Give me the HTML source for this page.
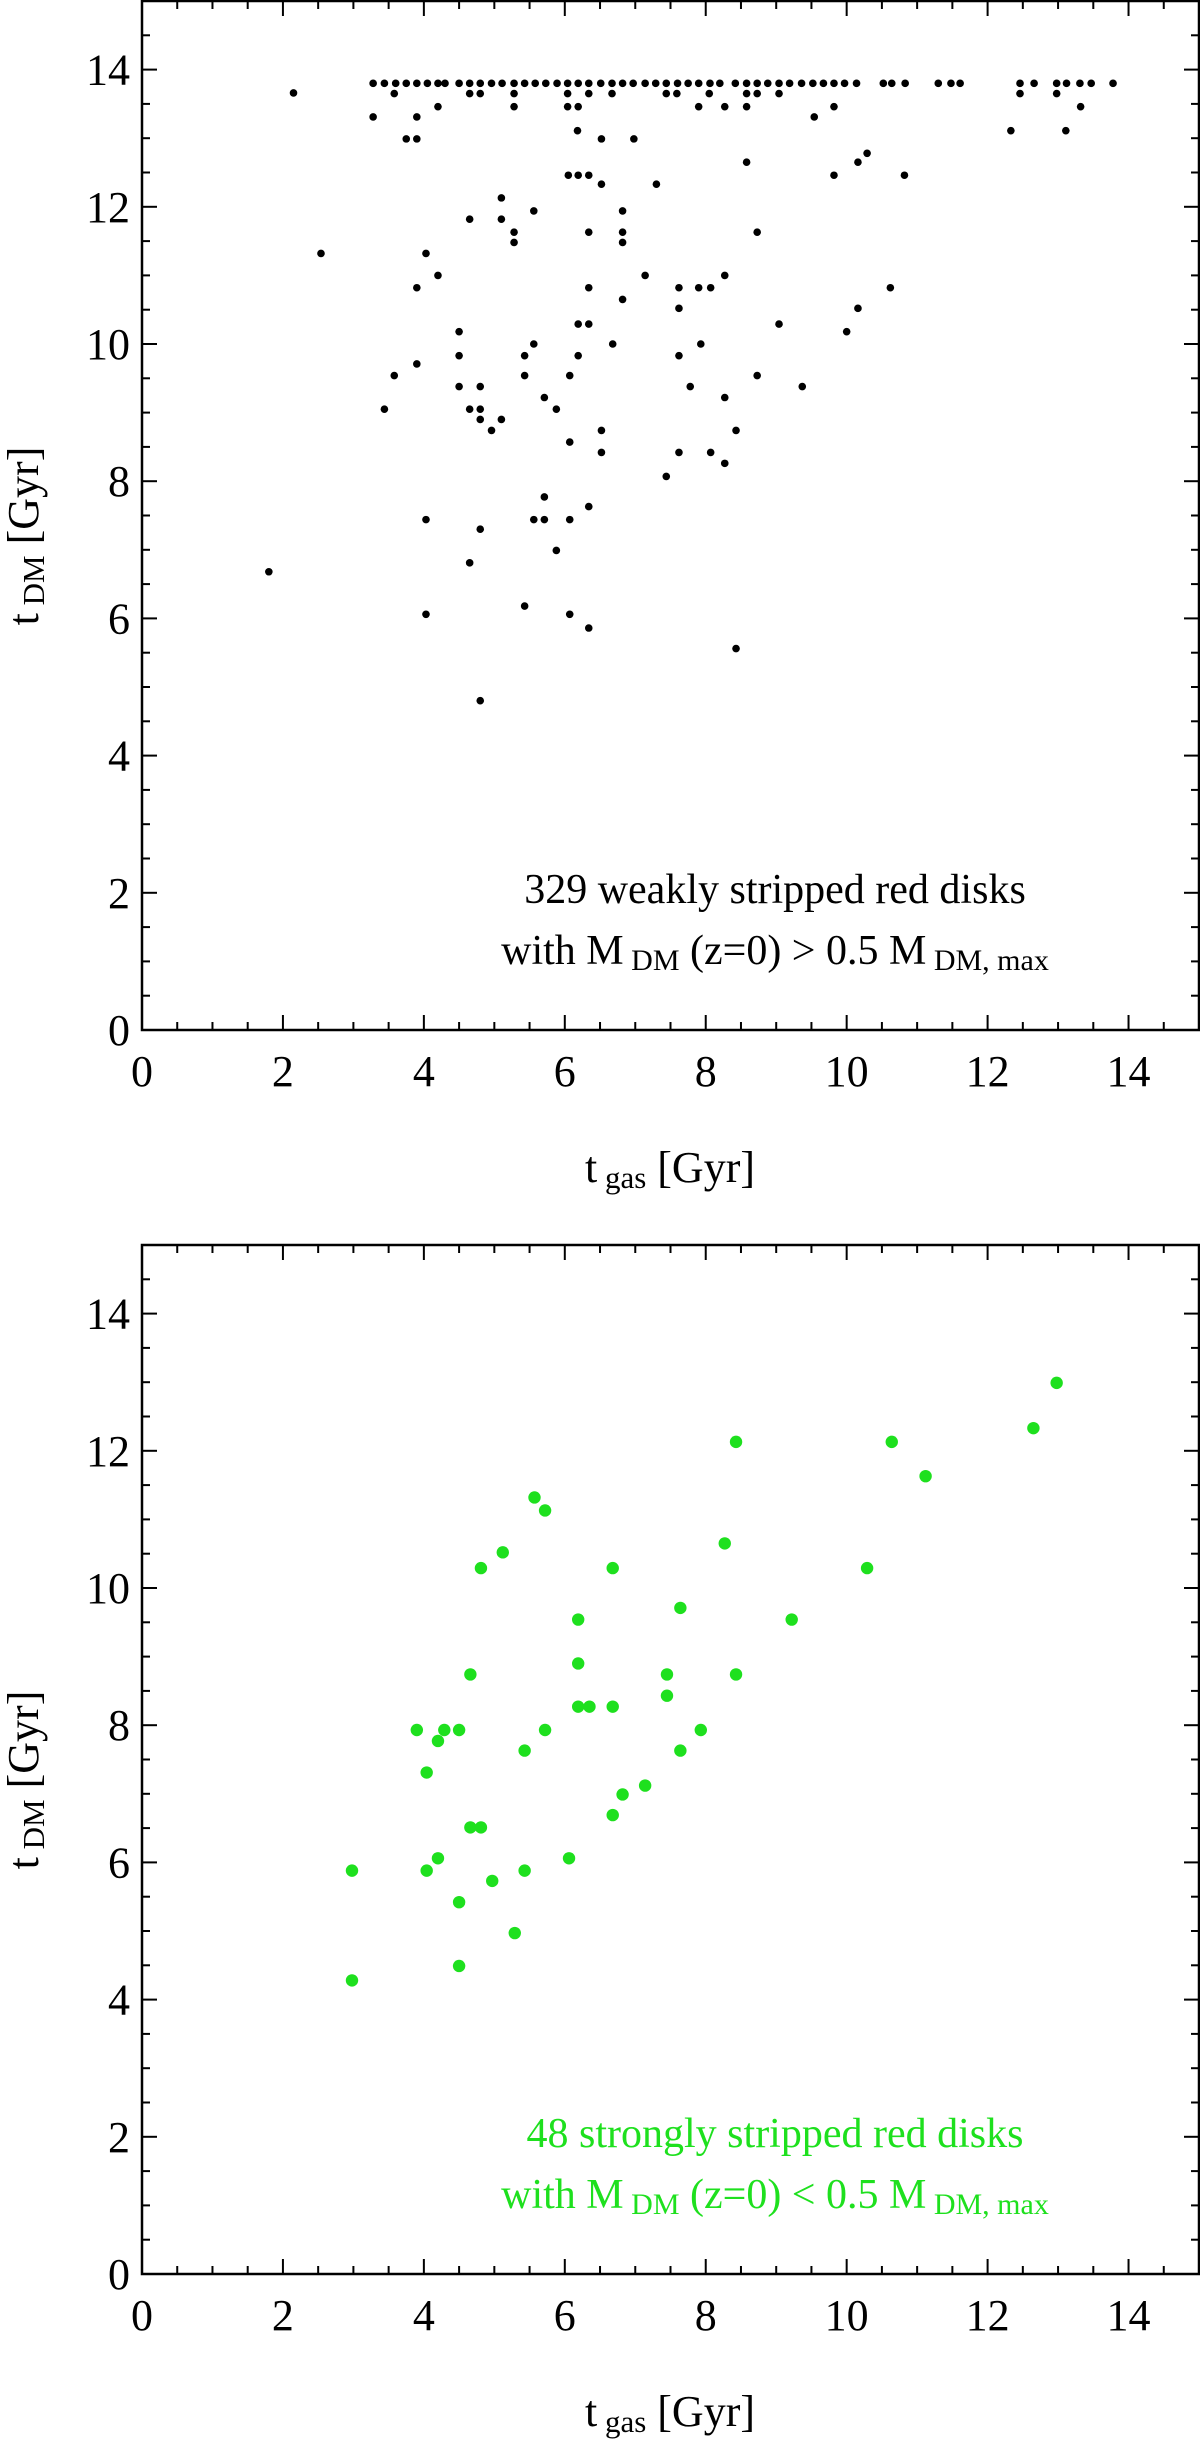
<!DOCTYPE html>
<html><head><meta charset="utf-8"><style>
html,body{margin:0;padding:0;background:#fff;}
svg{display:block;font-family:"Liberation Serif",serif;}
</style></head><body>
<svg id="s" width="1200" height="2460"></svg>
<script>
const topX=[3.28,3.44,3.6,3.75,3.9,4.05,4.2,4.3,4.5,4.65,4.8,4.96,5.11,5.28,5.43,5.58,5.73,5.89,6.04,6.19,6.34,6.51,6.67,6.82,6.97,7.14,7.29,7.44,7.6,7.75,7.9,8.06,8.2,8.42,8.58,8.73,8.88,9.04,9.19,9.36,9.52,9.67,9.82,9.97,10.14,10.52,10.64,10.83,11.3,11.48,11.61,12.46,12.66,12.98,13.12,13.31,13.47,13.78,
2.15,3.58,4.65,4.8,5.28,6.04,6.34,6.67,7.44,7.59,8.05,8.58,8.73,9.04,12.46,12.98,
4.2,5.28,6.04,6.19,7.9,8.27,8.58,9.82,13.32,3.28,3.9,9.54,6.18,12.33,13.11,3.75,3.9,6.52,6.98,8.58,10.16,10.29,6.05,6.19,6.34,9.82,10.82,6.52,7.3,
5.1,5.56,6.82,4.65,5.1,5.28,5.28,6.34,6.82,6.82,8.73,2.54,4.03,4.2,7.14,8.27,3.9,6.34,7.62,7.9,8.07,10.62,7.62,10.16,6.82,4.5,10.0,6.19,6.34,9.04,5.56,6.68,7.93,4.5,5.43,6.19,7.62,3.9,3.58,5.43,6.07,8.73,4.5,4.8,7.78,9.37,5.71,8.27,3.44,4.65,4.8,5.88,4.8,5.1,4.96,6.52,8.43,6.07,6.52,7.62,8.07,8.27,7.44,5.71,4.03,5.56,5.71,6.07,6.34,4.8,5.88,4.65,1.8,5.43,4.03,6.07,6.34,8.43,4.8];
const topY=[13.8,13.8,13.8,13.8,13.8,13.8,13.8,13.8,13.8,13.8,13.8,13.8,13.8,13.8,13.8,13.8,13.8,13.8,13.8,13.8,13.8,13.8,13.8,13.8,13.8,13.8,13.8,13.8,13.8,13.8,13.8,13.8,13.8,13.8,13.8,13.8,13.8,13.8,13.8,13.8,13.8,13.8,13.8,13.8,13.8,13.8,13.8,13.8,13.8,13.8,13.8,13.8,13.8,13.8,13.8,13.8,13.8,13.8,
13.66,13.65,13.65,13.65,13.65,13.65,13.65,13.65,13.65,13.65,13.65,13.65,13.65,13.65,13.65,13.65,
13.46,13.46,13.46,13.46,13.46,13.46,13.46,13.46,13.46,13.31,13.31,13.31,13.11,13.11,13.11,12.99,12.99,12.99,12.99,12.65,12.65,12.78,12.46,12.46,12.46,12.46,12.46,12.33,12.33,
12.13,11.94,11.94,11.82,11.82,11.63,11.48,11.63,11.63,11.48,11.63,11.32,11.32,11.0,11.0,11.0,10.82,10.82,10.82,10.82,10.82,10.82,10.52,10.52,10.65,10.18,10.18,10.29,10.29,10.29,10.0,10.0,10.0,9.83,9.83,9.83,9.83,9.71,9.54,9.54,9.54,9.54,9.38,9.38,9.38,9.38,9.22,9.22,9.05,9.05,9.05,9.05,8.9,8.9,8.74,8.74,8.74,8.57,8.42,8.42,8.42,8.26,8.07,7.77,7.44,7.44,7.44,7.44,7.63,7.3,6.99,6.81,6.68,6.18,6.06,6.06,5.86,5.56,4.8];
const botX=[2.98,2.98,3.9,4.04,4.04,4.2,4.2,4.29,4.5,4.5,4.5,4.66,4.66,4.81,4.81,4.97,5.12,5.29,5.43,5.43,5.57,5.72,5.72,6.06,6.19,6.19,6.19,6.35,6.68,6.68,6.68,6.82,7.14,7.45,7.45,7.64,7.64,7.93,8.27,8.43,8.43,9.22,10.29,10.64,11.12,12.65,12.98];
const botY=[5.88,4.28,7.93,7.31,5.88,7.77,6.06,7.93,7.93,5.42,4.49,8.74,6.51,6.51,10.29,5.73,10.52,4.97,7.63,5.88,11.32,11.13,7.93,6.06,9.54,8.9,8.27,8.27,10.29,8.27,6.69,6.99,7.12,8.74,8.43,9.71,7.63,7.93,10.65,12.13,8.74,9.54,10.29,12.13,11.63,12.33,12.99];
const tickLabels=["0","2","4","6","8","10","12","14"];
const NS="http://www.w3.org/2000/svg";
const svg=document.getElementById('s');
function mk(t,a,p){const e=document.createElementNS(NS,t);for(const k in a)e.setAttribute(k,a[k]);(p||svg).appendChild(e);return e;}
function panel(top,xs,ys,color,r,name,l1,cmp){
  const L=142,R=1199,B=top+1029,T=top;
  const g=mk('g',{});
  
  
  const sx=v=>L+v*(R-L)/15, sy=v=>B-v*(B-T)/15;
  for(let i=0;i<=30;i++){const v=i*0.5,maj=i%4==0,len=maj?15:8;
    const x=sx(v),y=sy(v);
    mk('line',{x1:x,y1:B,x2:x,y2:B-len,stroke:'#000','stroke-width':2},g);
    mk('line',{x1:x,y1:T,x2:x,y2:T+len,stroke:'#000','stroke-width':2},g);
    mk('line',{x1:L,y1:y,x2:L+len,y2:y,stroke:'#000','stroke-width':2},g);
    mk('line',{x1:R,y1:y,x2:R-len,y2:y,stroke:'#000','stroke-width':2},g);}
  const fr=mk('rect',{x:L,y:T,width:R-L,height:B-T,fill:'none',stroke:'#000','stroke-width':2.5},g);
  
  
  tickLabels.forEach((t,i)=>{const v=+t;
    const a=mk('text',{x:sx(v),y:B+56,'text-anchor':'middle','font-size':44},g);a.textContent=t;
    
    
    const b=mk('text',{x:130,y:sy(v)+15,'text-anchor':'end','font-size':44},g);b.textContent=t;
    
    });
  const xt=mk('text',{x:670,y:B+152,'text-anchor':'middle','font-size':44},g);
  xt.innerHTML='t<tspan font-size="31" dy="6"> gas</tspan><tspan dy="-6"> [Gyr]</tspan>';
  
  
  const yt=mk('text',{x:0,y:0,'text-anchor':'middle','font-size':44,transform:`translate(38,${top+535}) rotate(-90)`},g);
  yt.innerHTML='t<tspan font-size="31" dy="6"> DM</tspan><tspan dy="-6"> [Gyr]</tspan>';
  
  
  xs.forEach((v,i)=>{const c=mk('circle',{cx:sx(v),cy:sy(ys[i]),r:r,fill:color},g);
    
    });
  const t1=mk('text',{x:775,y:top+902,'text-anchor':'middle','font-size':42,fill:color},g);t1.textContent=l1;
  
  
  const t2=mk('text',{x:775,y:top+963,'text-anchor':'middle','font-size':42,fill:color},g);
  t2.innerHTML='with M<tspan font-size="30" dy="6"> DM</tspan><tspan dy="-6"> (z=0) '+cmp+' 0.5 M</tspan><tspan font-size="30" dy="6"> DM, max</tspan>';
  
  
}
panel(1,topX,topY,'#000',3.8,'weakly-stripped-panel','329 weakly stripped red disks','&gt;');
panel(1245,botX,botY,'#1ee01e',6.2,'strongly-stripped-panel','48 strongly stripped red disks','&lt;');
</script>
</body></html>
